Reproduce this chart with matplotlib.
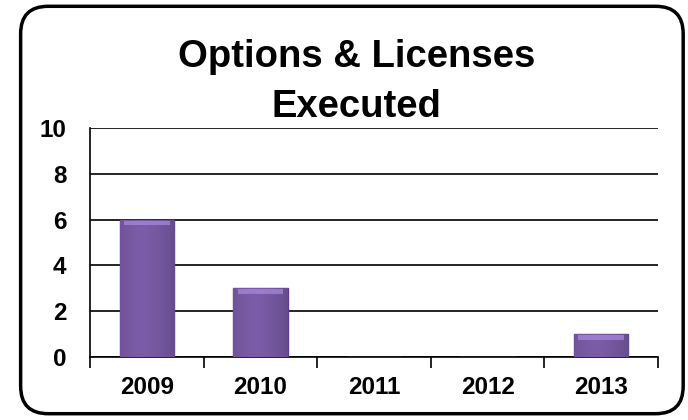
import numpy as np
import matplotlib.pyplot as plt
from matplotlib.patches import FancyBboxPatch

years = ["2009", "2010", "2011", "2012", "2013"]
executed = [6, 3, 0, 0, 1]
y_ticks = [0, 2, 4, 6, 8, 10]

plt.rcParams["font.family"] = ["Liberation Sans", "DejaVu Sans"]

fig = plt.figure(figsize=(6.88, 4.20), dpi=100)
ax = fig.add_axes([0.1308, 0.15, 0.8256, 0.545])

x = np.arange(len(years))
bars = ax.bar(x, executed, width=0.48, color="#7b5ca8", edgecolor="#5a3e88",
              linewidth=1.0, zorder=3)

# soft vertical shading on each bar
grad = np.linspace(0, 1, 64)
shade = 1 - 0.35 * np.abs(grad - 0.4) ** 1.5
for b in bars:
    if b.get_height() <= 0:
        continue
    x0, w, h = b.get_x(), b.get_width(), b.get_height()
    img = np.zeros((1, 64, 4))
    base = np.array([0x7b, 0x5c, 0xa8]) / 255
    img[0, :, :3] = base * shade[:, None]
    img[0, :, 3] = 1
    im = ax.imshow(img, extent=[x0, x0 + w, 0, h], aspect="auto", zorder=3.5)
    im.set_clip_path(b)
    ax.fill_between([x0 + 0.04, x0 + w - 0.04], h - 0.25, h - 0.05,
                    color="#a88be0", alpha=0.7, zorder=4, linewidth=0)

ax.set_xlim(-0.5, len(years) - 0.5)
ax.set_ylim(0, 10)
ax.set_yticks(y_ticks)
ax.set_yticklabels([str(v) for v in y_ticks], fontsize=17.5, fontweight="bold")
ax.set_xticks(x)
ax.set_xticklabels(years, fontsize=17.5, fontweight="bold")
ax.tick_params(axis="x", length=0, pad=14)
ax.tick_params(axis="y", length=0, pad=17)
ax.set_xticks(np.arange(-0.5, len(years)), minor=True)
ax.tick_params(axis="x", which="minor", length=8, width=1.2, direction="out")

ax.yaxis.grid(True, color="black", linewidth=1.2, zorder=0)
ax.set_axisbelow(True)
for side in ["top", "right"]:
    ax.spines[side].set_visible(False)
ax.spines["left"].set_linewidth(1.2)
ax.spines["bottom"].set_linewidth(1.2)

fig.text(0.518, 0.840, "Options & Licenses", ha="center", va="baseline",
         fontsize=27.5, fontweight="bold")
fig.text(0.518, 0.721, "Executed", ha="center", va="baseline",
         fontsize=27.5, fontweight="bold")

border = FancyBboxPatch((0.03, 0.015), 0.963, 0.97,
                        boxstyle="round,pad=0,rounding_size=0.04",
                        transform=fig.transFigure, fill=False,
                        edgecolor="black", linewidth=2.5, mutation_aspect=688 / 420)
fig.patches.append(border)

fig.savefig("out.png", dpi=100)
